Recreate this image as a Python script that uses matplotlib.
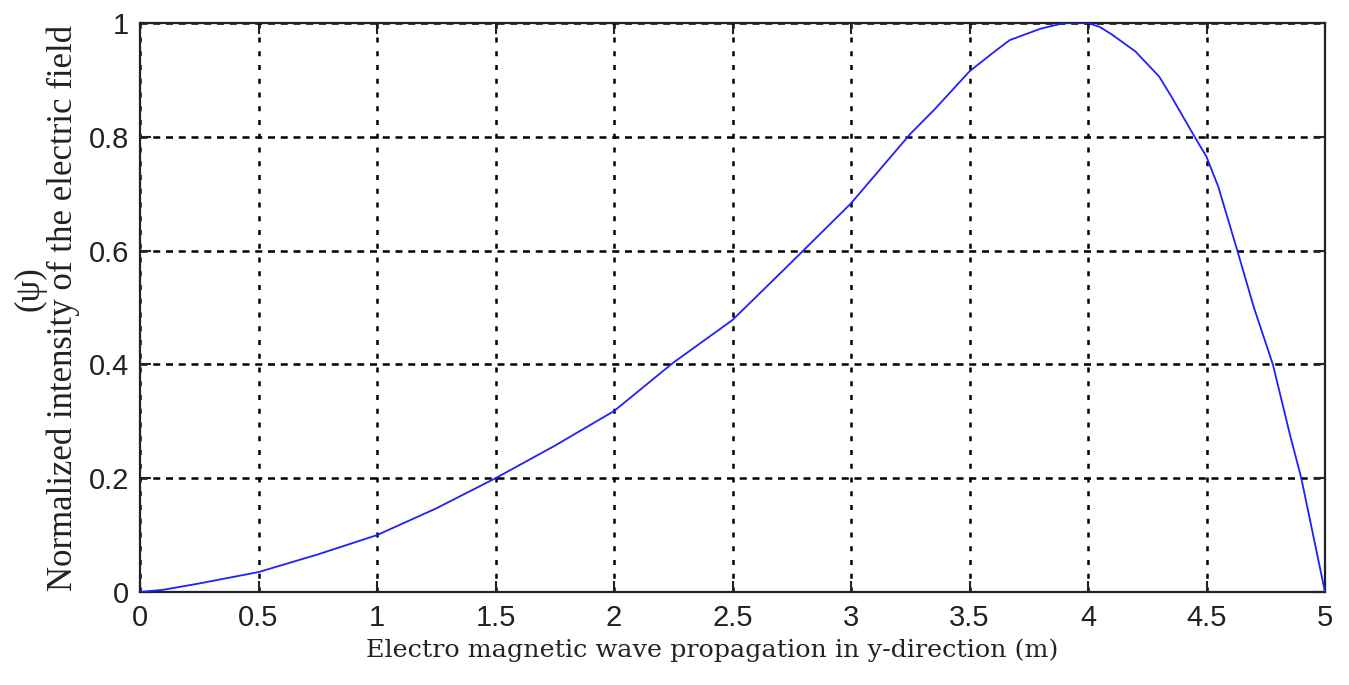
import matplotlib
matplotlib.use("Agg")
import matplotlib.pyplot as plt

# Data
x_vals = [0.0, 0.1, 0.25, 0.5, 0.75, 1.0, 1.25, 1.5, 1.75, 2.0, 2.25, 2.5, 2.75,
          3.0, 3.25, 3.35, 3.5, 3.6, 3.67, 3.8, 3.9, 4.0, 4.05, 4.1, 4.2, 4.3,
          4.35, 4.45, 4.5, 4.55, 4.63, 4.7, 4.78, 4.85, 4.9, 4.95, 5.0]
y_vals = [0.0, 0.004, 0.015, 0.035, 0.066, 0.100, 0.147, 0.200, 0.257, 0.318,
          0.403, 0.478, 0.580, 0.683, 0.805, 0.847, 0.915, 0.948, 0.970, 0.990,
          1.000, 1.000, 0.993, 0.980, 0.950, 0.906, 0.872, 0.800, 0.765, 0.712,
          0.600, 0.500, 0.400, 0.280, 0.200, 0.100, 0.0]
x_ticks = [0, 0.5, 1, 1.5, 2, 2.5, 3, 3.5, 4, 4.5, 5]
x_ticklabels = ["0", "0.5", "1", "1.5", "2", "2.5", "3", "3.5", "4", "4.5", "5"]
y_ticks = [0, 0.2, 0.4, 0.6, 0.8, 1.0]
y_ticklabels = ["0", "0.2", "0.4", "0.6", "0.8", "1"]
x_label = "Electro magnetic wave propagation in y-direction (m)"
y_label = "Normalized intensity of the electric field"
y_label_symbol = "(\u03c8)"

W, H = 1349, 685
fig = plt.figure(figsize=(W / 100, H / 100), dpi=100)
ax_l, ax_r, ax_t, ax_b = 140, 1325, 23, 592
ax = fig.add_axes([ax_l / W, (H - ax_b) / H, (ax_r - ax_l) / W, (ax_b - ax_t) / H])

ax.plot(x_vals, y_vals, color="#1f1fff", linewidth=1.3, zorder=3)

ax.set_xlim(0, 5)
ax.set_ylim(0, 1)
ax.set_xticks(x_ticks)
ax.set_xticklabels(x_ticklabels)
ax.set_yticks(y_ticks)
ax.set_yticklabels(y_ticklabels)

for lab in ax.get_xticklabels() + ax.get_yticklabels():
    lab.set_fontfamily(["Liberation Sans", "DejaVu Sans"])
    lab.set_fontsize(21)
    lab.set_color("#222222")

ax.tick_params(direction="in", length=8, width=1.5, top=True, right=True,
               colors="#222222")
ax.tick_params(axis="x", pad=9)
ax.tick_params(axis="y", pad=8)

for s in ax.spines.values():
    s.set_linewidth(1.6)
    s.set_color("#222222")

ax.xaxis.grid(True, color="black", linewidth=1.8, linestyle=(0, (2.0, 3.5)))
ax.yaxis.grid(True, color="black", linewidth=1.8, linestyle=(0, (2.8, 2.3)))
ax.set_axisbelow(True)

ax.set_xlabel(x_label, family=["DejaVu Serif"], fontsize=18.3, color="#222222")
ax.xaxis.set_label_coords((712 - ax_l) / (ax_r - ax_l), -(638 - ax_b) / (ax_b - ax_t))

ax.set_ylabel(y_label, family=["Liberation Serif", "DejaVu Serif"], fontsize=25,
              color="#222222")
ax.yaxis.set_label_coords(-(ax_l - 80) / (ax_r - ax_l), 0.5)

fig.text(30 / W, 1 - 289 / H, y_label_symbol, rotation=90, ha="center", va="center",
         family=["Liberation Serif", "DejaVu Serif"], fontsize=25, color="#222222")

fig.savefig("out.png", dpi=100)
